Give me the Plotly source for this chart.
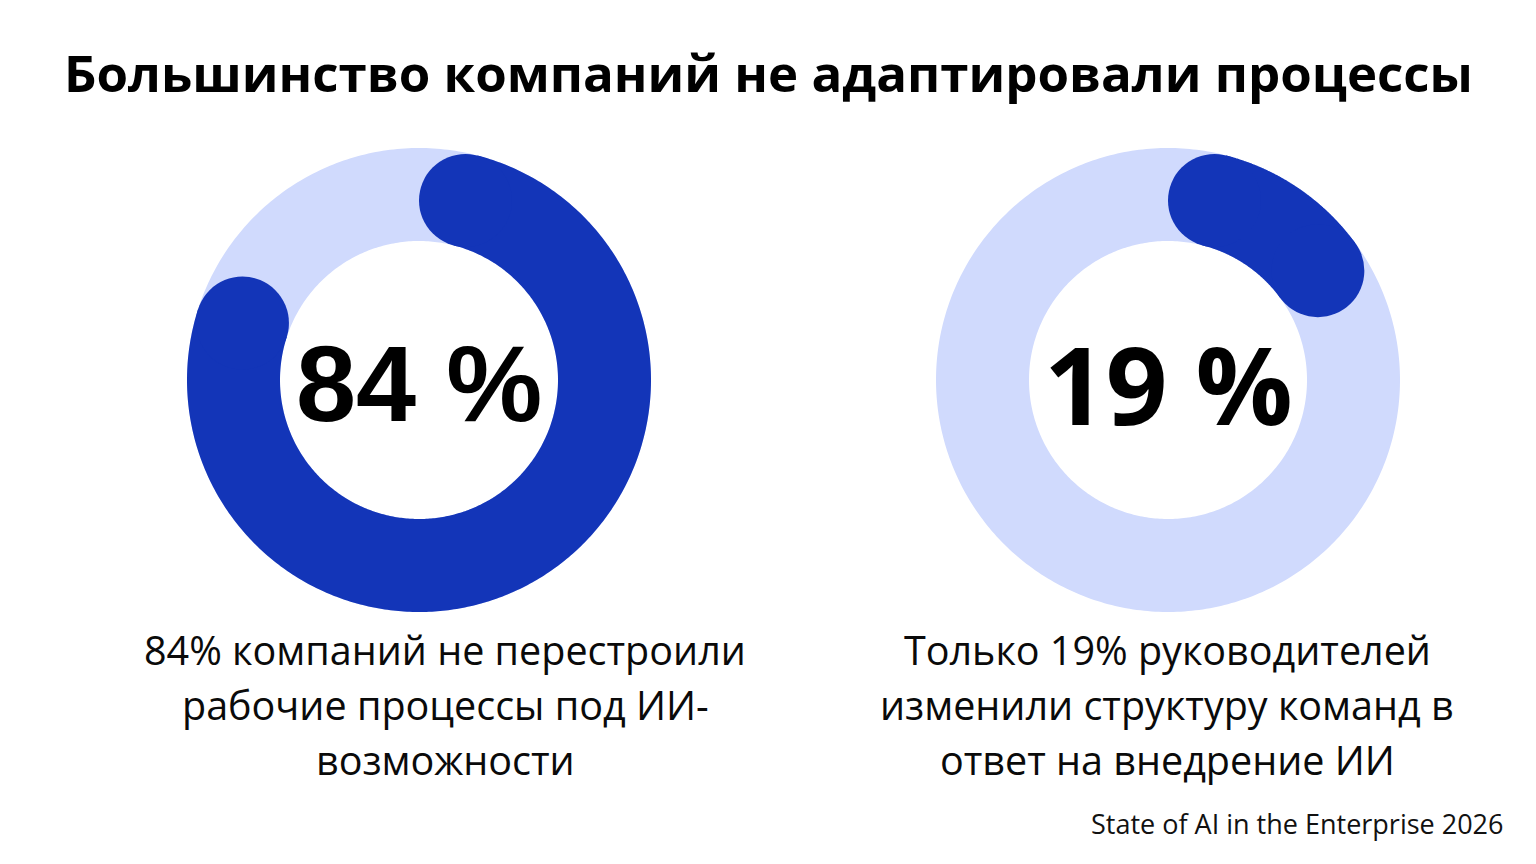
import numpy as np
import plotly.graph_objects as go

# data
values = [84, 19]
big_fonts = ["Liberation Sans", "Open Sans"]
captions = [
    ["84% компаний не перестроили", "рабочие процессы под ИИ-", "возможности"],
    ["Только 19% руководителей", "изменили структуру команд в", "ответ на внедрение ИИ"],
]
title = "Большинство компаний не адаптировали процессы"
source = "State of AI in the Enterprise 2026"

DARK = "#1335b8"
LIGHT = "#d0dafd"

W, H = 1536, 864
OFF = 8  # page body margin
centers = [(419, 380), (1168, 380)]
r_mid = 185.5
thick = 93
caption_x = [445, 1167]
caption_y0 = 650
line_gap = 55


def ring_xy(cx, cy, deg_from, deg_to, n=400):
    # angles clockwise from 12 o'clock, screen y grows downward
    a = np.radians(np.linspace(deg_from, deg_to, n))
    return cx + r_mid * np.sin(a), cy - r_mid * np.cos(a)


fig = go.Figure()
cap_deg = np.degrees(np.arcsin(thick / 2 / r_mid))

for (cx, cy), v, bf in zip(centers, values, big_fonts):
    x, y = ring_xy(cx, cy, 0, 362)
    fig.add_trace(go.Scatter(x=x, y=y, mode="lines",
                             line=dict(color=LIGHT, width=thick, simplify=False),
                             hoverinfo="skip"))
    x, y = ring_xy(cx, cy, cap_deg, v * 3.6 - cap_deg)
    fig.add_trace(go.Scatter(x=x, y=y, mode="lines",
                             line=dict(color=DARK, width=thick, simplify=False),
                             hoverinfo="skip"))
    fig.add_trace(go.Scatter(x=[x[0], x[-1]], y=[y[0], y[-1]], mode="markers",
                             marker=dict(color=DARK, size=thick, line=dict(width=0)),
                             hoverinfo="skip"))
    fig.add_annotation(x=cx, y=cy + 3, text=f"<b>{v} %</b>", showarrow=False,
                       font=dict(family=bf, size=108, color="black"),
                       xanchor="center", yanchor="middle")

for cxx, lines in zip(caption_x, captions):
    for i, line in enumerate(lines):
        fig.add_annotation(x=cxx, y=caption_y0 + i * line_gap, text=line,
                           showarrow=False,
                           font=dict(family="Open Sans", size=39.5, color="#0a0a0a"),
                           xanchor="center", yanchor="middle")

fig.add_annotation(x=768, y=72, text=f"<b>{title}</b>", showarrow=False,
                   font=dict(family="Open Sans", size=51, color="black"),
                   xanchor="center", yanchor="middle")
fig.add_annotation(x=1506, y=823, text=source, showarrow=False,
                   font=dict(family="Open Sans", size=27, color="#111111"),
                   xanchor="right", yanchor="middle")

fig.update_layout(
    width=W - OFF, height=H - OFF,
    margin=dict(l=0, r=0, t=0, b=0),
    paper_bgcolor="white", plot_bgcolor="white",
    showlegend=False,
    xaxis=dict(range=[OFF, W], visible=False, fixedrange=True),
    yaxis=dict(range=[H, OFF], visible=False, fixedrange=True),
)

fig.write_html("out.html")
